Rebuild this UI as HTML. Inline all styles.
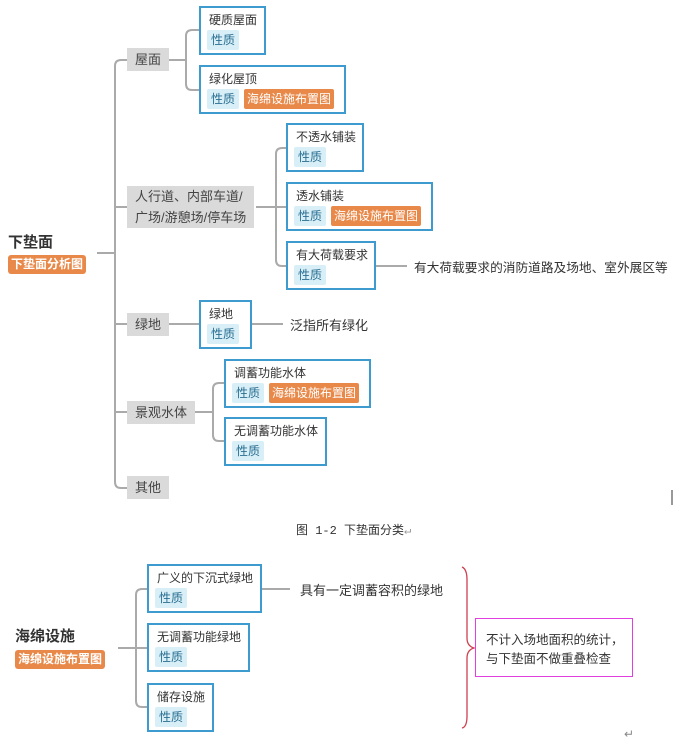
<!DOCTYPE html>
<html><head><meta charset="utf-8"><style>
*{margin:0;padding:0;box-sizing:border-box}
body{width:678px;height:744px;background:#fff;position:relative;overflow:hidden;font-family:"Liberation Sans","Noto Sans CJK SC",sans-serif;color:#333;font-size:12px}
.a{position:absolute}
.g{position:absolute;background:#dadada;font-size:13px;color:#444;padding:0 8px;line-height:23px}
.b{position:absolute;border:2px solid #3d9bcf;background:#fff}
.b .t{position:absolute;left:8px;top:4px;font-size:12px;line-height:16px;color:#333;white-space:nowrap}
.b .p{position:absolute;left:6px;bottom:3px;height:20px;line-height:20px;padding:0 4px;background:#d8eff8;color:#2a6e90;font-size:12px;border-radius:2px}
.b .o{position:absolute;bottom:3px;height:20px;line-height:20px;padding:0 3px;background:#e8894a;color:#fff;font-size:12px;border-radius:2px}
.or{position:absolute;background:#e8894a;color:#fff;font-size:12px;font-weight:bold;height:19px;line-height:19px;padding:0 3px;border-radius:3px}
.r{position:absolute;font-size:15px;font-weight:bold;color:#333}
.x{position:absolute;font-size:13px;color:#333;white-space:nowrap}
</style></head><body>
<svg class="a" style="left:0;top:0" width="678" height="744">
<g fill="none" stroke="#aaa" stroke-width="2">
<path d="M97 253H115"/>
<path d="M127 60H121Q115 60 115 66V482Q115 488 121 488H127"/>
<path d="M115 207H127M115 324H127M115 412H127"/>
<path d="M169 60H186"/>
<path d="M199 30H192Q186 30 186 36V84Q186 90 192 90H199"/>
<path d="M256 207H276"/>
<path d="M286 148H282Q276 148 276 154V260Q276 266 282 266H286"/>
<path d="M276 207H286"/>
<path d="M376 266H407"/>
<path d="M169 324H199M252 324H283"/>
<path d="M193 412H213"/>
<path d="M224 383H219Q213 383 213 389V435Q213 441 219 441H224"/>
<path d="M118 648H136"/>
<path d="M147 589H142Q136 589 136 595V701Q136 707 142 707H147"/>
<path d="M136 648H147"/>
<path d="M261 589H290"/>
</g>
<path d="M462 567Q467 569 467 580V638Q467 646 474 648Q467 650 467 658V716Q467 727 462 728" fill="none" stroke="#d04050" stroke-width="1.3"/>
<path d="M672 490V505" stroke="#333" stroke-width="1"/>
</svg>
<div class="r" style="left:8px;top:231px">下垫面</div>
<div class="or" style="left:8px;top:255px">下垫面分析图</div>
<div class="g" style="left:127px;top:48px">屋面</div>
<div class="g" style="left:127px;top:186px;line-height:21px;height:42px;padding-top:0">人行道、内部车道/<br>广场/游憩场/停车场</div>
<div class="g" style="left:127px;top:313px">绿地</div>
<div class="g" style="left:127px;top:401px">景观水体</div>
<div class="g" style="left:127px;top:476px">其他</div>
<div class="b" style="left:199px;top:6px;width:67px;height:49px"><div class="t">硬质屋面</div><div class="p">性质</div></div>
<div class="b" style="left:199px;top:65px;width:147px;height:49px"><div class="t">绿化屋顶</div><div class="p">性质</div><div class="o" style="left:43px">海绵设施布置图</div></div>
<div class="b" style="left:286px;top:123px;width:78px;height:49px"><div class="t">不透水铺装</div><div class="p">性质</div></div>
<div class="b" style="left:286px;top:182px;width:147px;height:49px"><div class="t">透水铺装</div><div class="p">性质</div><div class="o" style="left:43px">海绵设施布置图</div></div>
<div class="b" style="left:286px;top:241px;width:90px;height:49px"><div class="t">有大荷载要求</div><div class="p">性质</div></div>
<div class="x" style="left:414px;top:257px;font-size:12.7px">有大荷载要求的消防道路及场地、室外展区等</div>
<div class="b" style="left:199px;top:300px;width:53px;height:49px"><div class="t">绿地</div><div class="p">性质</div></div>
<div class="x" style="left:290px;top:315px">泛指所有绿化</div>
<div class="b" style="left:224px;top:359px;width:147px;height:49px"><div class="t">调蓄功能水体</div><div class="p">性质</div><div class="o" style="left:43px">海绵设施布置图</div></div>
<div class="b" style="left:224px;top:417px;width:103px;height:49px"><div class="t">无调蓄功能水体</div><div class="p">性质</div></div>
<div class="x" style="left:296px;top:521px;font-family:'Liberation Mono','Noto Sans CJK SC',monospace;font-size:12px">图 1-2 下垫面分类<span style="color:#999">↵</span></div>
<div class="r" style="left:15px;top:625px">海绵设施</div>
<div class="or" style="left:15px;top:650px">海绵设施布置图</div>
<div class="b" style="left:147px;top:564px;width:115px;height:49px"><div class="t">广义的下沉式绿地</div><div class="p">性质</div></div>
<div class="b" style="left:147px;top:623px;width:103px;height:49px"><div class="t">无调蓄功能绿地</div><div class="p">性质</div></div>
<div class="b" style="left:147px;top:683px;width:67px;height:49px"><div class="t">储存设施</div><div class="p">性质</div></div>
<div class="x" style="left:300px;top:580px">具有一定调蓄容积的绿地</div>
<div class="a" style="left:475px;top:618px;width:158px;height:59px;border:1px solid #e040e0"></div>
<div class="x" style="left:486px;top:631px;line-height:19px;font-size:12.5px">不计入场地面积的统计，<br>与下垫面不做重叠检查</div>
<div class="x" style="left:624px;top:727px;color:#888;font-size:12px">↵</div>
</body></html>
